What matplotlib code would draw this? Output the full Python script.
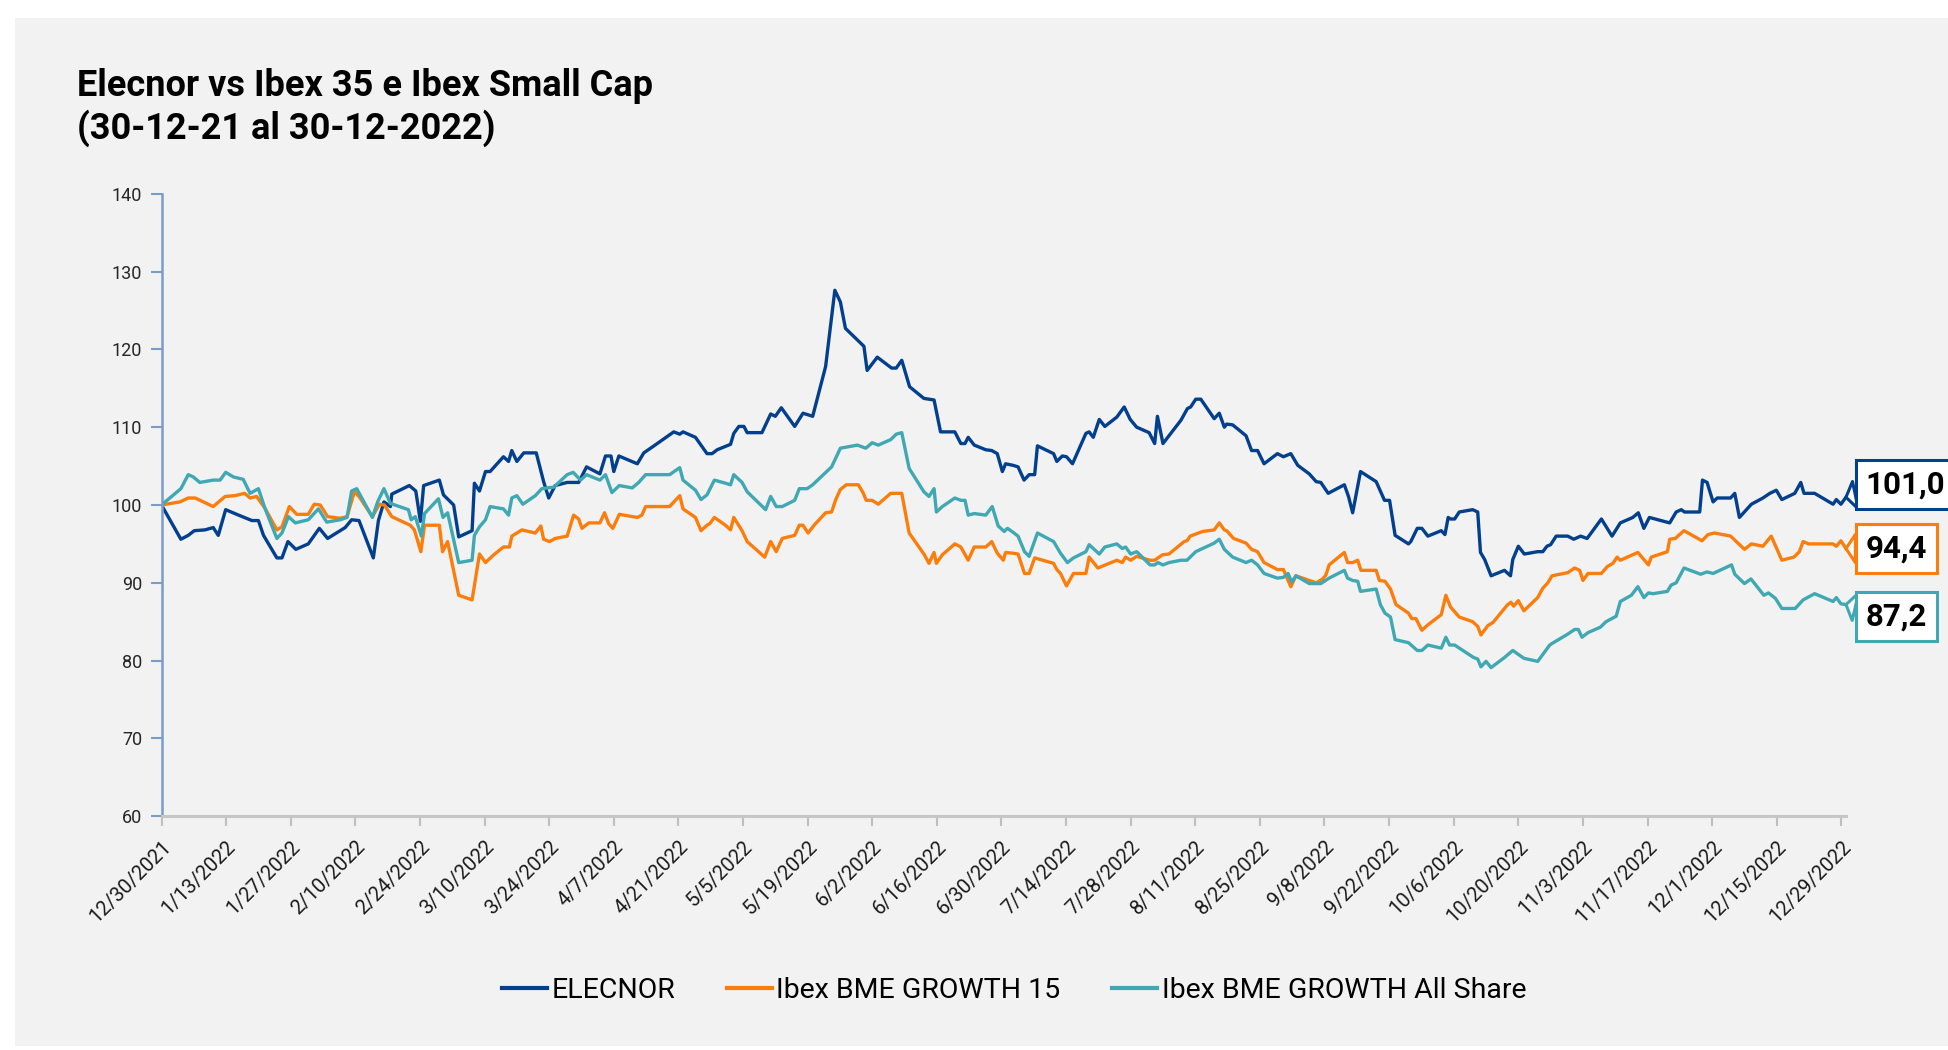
import matplotlib.pyplot as plt
import pandas as pd
from matplotlib.patches import Rectangle

FONT = ['Roboto', 'DejaVu Sans']
plt.rcParams['font.family'] = FONT

# day offsets from 30-12-2021 and index values
elecnor_days = [0, 4.2, 5.8, 7.1, 9.4, 11.2, 12.3, 13.9, 16.7, 19.6, 21.0, 22.1, 25.0, 26.1, 27.4, 29.1, 31.8, 34.2,
                36.0, 39.8, 41.2, 42.8, 45.9, 47.0, 48.2, 49.6, 49.9, 53.7, 55.1, 56.1, 56.8, 60.2, 61.1, 63.3, 64.4,
                67.3, 67.8, 68.9, 70.2, 71.2, 74.1, 75.2, 75.9, 77.0, 78.5, 81.2, 82.8, 83.9, 85.3, 87.9, 90.4, 92.1,
                95.0, 96.2, 97.4, 98.0, 99.1, 103.1, 104.5, 106.7, 111.0, 112.3, 113.0, 115.7, 118.2, 119.3, 120.4,
                123.3, 124.0, 125.1, 126.2, 126.9, 130.1, 132.0, 133.0, 134.3, 137.2, 139.0, 141.1, 143.9, 145.9,
                147.1, 148.2, 152.2, 152.9, 155.1, 158.2, 159.2, 160.4, 162.1, 165.2, 167.4, 168.8, 171.9, 173.2,
                174.1, 174.8, 176.1, 178.6, 179.9, 181.1, 182.2, 182.9, 184.5, 185.6, 186.9, 188.0, 189.2, 189.8,
                193.3, 194.0, 195.2, 196.1, 197.4, 200.3, 201.0, 201.9, 203.2, 204.4, 207.0, 208.6, 209.9, 211.3,
                214.0, 215.2, 215.8, 217.0, 220.9, 222.3, 223.0, 224.1, 225.2, 228.1, 229.2, 230.3, 230.8, 232.1,
                235.0, 236.2, 237.5, 238.9, 241.8, 243.1, 244.7, 246.2, 248.7, 250.2, 251.2, 252.8, 256.3, 257.2,
                258.1, 259.8, 263.2, 265.0, 266.1, 267.3, 270.2, 270.7, 272.1, 273.1, 274.4, 277.3, 278.1, 278.8,
                279.3, 280.2, 281.2, 284.1, 285.2, 285.8, 286.7, 288.1, 291.0, 292.3, 292.8, 294.0, 295.3, 298.2,
                299.3, 300.2, 301.0, 302.2, 304.7, 306.0, 307.5, 308.9, 312.0, 314.3, 316.1, 318.8, 320.0, 321.2,
                322.4, 326.8, 328.2, 329.3, 330.0, 333.3, 333.9, 334.9, 336.2, 337.1, 340.0, 340.9, 341.9, 344.5,
                347.0, 348.5, 349.9, 351.1, 353.9, 355.2, 355.9, 358.2, 362.2, 362.9, 363.9, 365.0]
elecnor_vals = [100.0, 95.6, 96.1, 96.7, 96.8, 97.1, 96.1, 99.4, 98.7, 98.0, 98.0, 96.1, 93.2, 93.2, 95.3, 94.3, 95.0,
                97.0, 95.7, 97.1, 98.1, 98.0, 93.2, 98.0, 100.4, 99.8, 101.4, 102.5, 101.8, 97.9, 102.5, 103.2, 101.3,
                100.0, 95.9, 96.7, 102.8, 101.8, 104.3, 104.3, 106.2, 105.6, 107.0, 105.6, 106.7, 106.7, 103.0, 100.9,
                102.5, 102.9, 102.9, 104.9, 104.0, 106.3, 106.3, 104.3, 106.3, 105.3, 106.7, 107.6, 109.4, 109.1,
                109.4, 108.7, 106.6, 106.6, 107.1, 107.8, 109.2, 110.1, 110.1, 109.3, 109.3, 111.7, 111.4, 112.5,
                110.1, 111.8, 111.4, 117.8, 127.6, 126.1, 122.7, 120.4, 117.3, 119.0, 117.6, 117.6, 118.6, 115.2,
                113.7, 113.5, 109.4, 109.4, 107.9, 107.9, 108.7, 107.7, 107.1, 107.0, 106.6, 104.3, 105.3, 105.1,
                104.9, 103.2, 103.9, 103.9, 107.6, 106.6, 105.6, 106.3, 106.2, 105.3, 109.2, 109.4, 108.7, 111.0,
                110.1, 111.3, 112.6, 111.0, 110.0, 109.3, 107.9, 111.4, 107.9, 110.9, 112.4, 112.6, 113.6, 113.6,
                111.1, 111.8, 110.0, 110.4, 110.3, 108.9, 107.0, 107.0, 105.3, 106.6, 106.2, 106.6, 105.1, 104.0,
                103.0, 102.9, 101.5, 102.6, 101.1, 99.0, 104.3, 103.0, 100.6, 100.6, 96.1, 95.0, 95.3, 97.0, 97.0,
                96.0, 96.7, 96.2, 98.4, 98.2, 98.2, 99.1, 99.4, 99.1, 93.9, 93.0, 90.9, 91.6, 90.9, 93.0, 94.7, 93.7,
                94.0, 94.0, 94.7, 94.9, 96.0, 96.0, 95.6, 96.0, 95.7, 98.2, 96.0, 97.7, 98.4, 99.0, 97.0, 98.4, 97.7,
                99.1, 99.4, 99.1, 99.1, 103.2, 102.9, 100.4, 100.9, 100.9, 101.5, 98.4, 100.1, 100.9, 101.5, 101.9,
                100.7, 101.5, 102.9, 101.5, 101.5, 100.1, 100.7, 100.1, 101.0]

growth15_days = [0, 4.0, 5.8, 7.3, 11.2, 13.8, 15.9, 18.0, 19.2, 20.6, 22.4, 25.0, 26.1, 27.7, 29.3, 31.8, 33.1, 34.4,
                 36.0, 38.7, 40.2, 41.8, 42.8, 45.7, 47.2, 48.3, 49.9, 53.9, 54.8, 56.2, 57.0, 60.2, 60.9, 62.0, 64.4,
                 67.3, 68.9, 70.2, 72.0, 74.1, 75.4, 75.9, 78.1, 81.0, 82.2, 82.8, 84.1, 85.3, 87.9, 89.3, 90.4, 91.1,
                 92.6, 95.0, 96.0, 96.9, 97.8, 99.2, 103.1, 104.1, 104.9, 110.1, 112.3, 113.0, 115.7, 116.9, 118.2,
                 118.8, 119.8, 122.2, 123.3, 124.0, 125.8, 126.9, 130.7, 132.0, 133.2, 134.5, 137.2, 138.2, 139.0,
                 140.1, 141.4, 143.9, 145.2, 146.1, 147.1, 148.4, 151.0, 152.0, 152.7, 154.0, 155.3, 158.0, 160.4,
                 162.0, 165.2, 166.3, 167.4, 167.9, 169.2, 171.9, 173.2, 174.8, 176.1, 178.6, 179.9, 181.1, 182.4,
                 182.9, 184.5, 185.6, 187.0, 188.0, 189.2, 193.3, 194.0, 194.8, 196.1, 197.6, 200.3, 201.0, 202.9,
                 207.0, 208.2, 208.9, 210.0, 211.3, 214.2, 215.2, 216.9, 218.3, 221.6, 222.2, 222.9, 225.6, 228.1,
                 229.2, 230.3, 230.8, 232.3, 235.0, 236.2, 237.5, 238.9, 241.8, 243.1, 244.7, 245.8, 250.2, 251.6,
                 252.3, 253.0, 256.3, 257.0, 258.1, 259.2, 259.9, 263.2, 263.9, 265.1, 266.3, 267.5, 270.2, 270.9,
                 271.8, 273.1, 274.4, 277.3, 278.3, 279.3, 281.2, 284.1, 285.2, 285.9, 287.4, 288.5, 291.7, 292.4,
                 293.0, 294.0, 295.2, 298.2, 299.3, 300.4, 301.3, 304.7, 306.2, 307.3, 308.0, 309.1, 312.0, 313.3,
                 314.5, 315.4, 316.1, 319.9, 322.2, 322.8, 326.3, 326.8, 328.0, 329.9, 333.8, 335.1, 336.5, 340.0,
                 343.0, 344.5, 347.0, 348.8, 351.1, 353.7, 354.9, 355.7, 356.9, 362.2, 362.9, 363.9, 365.0]
growth15_vals = [100.0, 100.4, 100.9, 100.9, 99.8, 101.1, 101.2, 101.5, 100.9, 101.1, 99.6, 96.8, 97.2, 99.8, 98.8,
                 98.8, 100.1, 100.0, 98.5, 98.3, 98.5, 101.7, 101.1, 98.5, 100.1, 100.0, 98.5, 97.4, 96.8, 94.0, 97.4,
                 97.4, 94.0, 95.3, 88.4, 87.8, 93.7, 92.6, 93.6, 94.6, 94.6, 96.0, 96.8, 96.4, 97.3, 95.6, 95.3, 95.7,
                 96.0, 98.7, 98.2, 97.0, 97.7, 97.7, 99.0, 97.6, 97.0, 98.8, 98.4, 98.7, 99.8, 99.8, 101.2, 99.5, 98.4,
                 96.7, 97.4, 97.6, 98.4, 97.4, 96.8, 98.4, 96.7, 95.3, 93.3, 95.3, 94.0, 95.7, 96.1, 97.4, 97.4, 96.4,
                 97.4, 99.0, 99.1, 100.7, 102.0, 102.6, 102.6, 101.6, 100.6, 100.6, 100.1, 101.5, 101.5, 96.4, 93.7,
                 92.5, 93.9, 92.5, 93.6, 95.0, 94.6, 92.9, 94.6, 94.6, 95.3, 93.8, 92.9, 93.9, 93.8, 93.7, 91.2, 91.2,
                 93.2, 92.5, 91.7, 91.2, 89.6, 91.2, 91.2, 93.3, 91.9, 92.9, 92.6, 93.3, 92.9, 93.4, 92.9, 92.9, 93.6,
                 93.7, 95.3, 95.4, 96.0, 96.6, 96.8, 97.7, 96.8, 96.7, 95.7, 95.1, 94.3, 94.0, 92.6, 91.7, 91.7, 89.5,
                 90.9, 90.0, 90.5, 91.0, 92.3, 93.9, 92.6, 92.6, 92.9, 91.6, 91.6, 90.3, 90.2, 89.2, 87.2, 86.1, 85.4,
                 85.4, 83.9, 84.6, 85.9, 88.4, 86.9, 85.6, 85.0, 84.4, 83.3, 84.5, 84.9, 87.2, 87.5, 87.0, 87.7, 86.4,
                 88.1, 89.3, 90.0, 90.9, 91.3, 91.9, 91.6, 90.3, 91.2, 91.2, 92.1, 92.5, 93.3, 92.9, 93.9, 92.3, 93.3,
                 94.0, 95.6, 95.7, 96.7, 95.4, 96.2, 96.4, 96.0, 94.3, 95.0, 94.7, 96.0, 92.9, 93.3, 94.0, 95.3, 95.0,
                 95.0, 94.7, 95.4, 94.4]

allshare_days = [0, 4.2, 5.8, 6.9, 8.3, 11.2, 12.7, 13.9, 15.6, 17.7, 19.2, 21.0, 22.4, 25.0, 26.1, 27.5, 29.0, 31.8,
                 34.0, 35.8, 38.7, 40.2, 41.2, 42.3, 45.7, 46.9, 48.2, 49.6, 53.5, 54.1, 55.0, 56.3, 57.0, 60.0, 61.0,
                 62.0, 64.4, 67.3, 67.8, 68.9, 70.2, 71.2, 74.1, 75.2, 75.9, 77.0, 78.3, 81.0, 82.4, 85.0, 87.9, 89.2,
                 90.8, 92.1, 95.0, 96.2, 97.6, 99.2, 102.0, 103.4, 104.9, 110.1, 112.3, 113.0, 115.7, 116.9, 118.2,
                 119.8, 122.2, 123.3, 124.0, 125.8, 126.9, 130.9, 132.0, 133.2, 134.5, 137.2, 138.2, 139.9, 141.1,
                 145.2, 147.1, 150.8, 152.6, 154.0, 155.3, 158.0, 159.2, 160.4, 162.0, 165.2, 166.3, 167.4, 167.9,
                 169.2, 171.9, 173.2, 174.1, 174.8, 176.1, 178.6, 180.0, 181.3, 182.6, 183.3, 184.5, 185.6, 187.0,
                 188.0, 189.8, 193.3, 194.8, 196.3, 197.6, 200.3, 201.0, 203.2, 204.4, 207.0, 208.2, 208.9, 210.0,
                 211.3, 214.2, 215.2, 215.9, 217.0, 218.3, 220.9, 222.2, 224.1, 228.1, 229.2, 230.3, 232.1, 235.0,
                 236.2, 237.5, 238.9, 241.8, 243.1, 244.1, 244.9, 245.8, 248.7, 251.2, 253.0, 256.3, 257.0, 258.1,
                 259.2, 259.8, 263.2, 264.1, 265.1, 266.3, 267.3, 270.2, 272.1, 273.1, 274.4, 277.3, 278.3, 279.1,
                 280.2, 284.3, 285.2, 285.9, 287.0, 288.1, 291.0, 292.8, 295.2, 298.2, 300.8, 301.3, 304.7, 306.2,
                 307.0, 307.8, 309.1, 311.8, 313.0, 315.2, 316.1, 318.5, 319.9, 321.2, 322.2, 323.2, 326.3, 327.1,
                 328.2, 329.9, 333.5, 334.9, 336.2, 340.2, 340.9, 343.0, 344.4, 347.2, 348.2, 349.7, 351.1, 354.0,
                 355.7, 358.2, 362.2, 362.9, 363.9, 365.0]
allshare_vals = [100.0, 102.1, 103.9, 103.6, 102.9, 103.2, 103.2, 104.2, 103.6, 103.3, 101.5, 102.1, 99.6, 95.7, 96.4,
                 98.5, 97.7, 98.1, 99.5, 97.8, 98.1, 98.4, 101.8, 102.1, 98.4, 100.5, 102.1, 100.2, 99.4, 98.1, 98.5,
                 96.0, 98.9, 100.8, 98.4, 99.0, 92.6, 92.9, 96.1, 97.2, 98.1, 99.8, 99.5, 98.7, 100.9, 101.2, 100.1,
                 101.2, 102.1, 102.3, 103.9, 104.2, 103.2, 103.9, 103.2, 103.9, 101.6, 102.5, 102.2, 102.9, 103.9,
                 103.9, 104.8, 103.2, 101.9, 100.7, 101.3, 103.2, 102.8, 102.6, 103.9, 102.9, 101.7, 99.4, 101.1, 99.8,
                 99.8, 100.6, 102.1, 102.1, 102.6, 104.9, 107.3, 107.7, 107.3, 108.0, 107.7, 108.4, 109.1, 109.3, 104.7,
                 101.7, 101.1, 102.1, 99.1, 99.8, 100.9, 100.6, 100.6, 98.7, 98.9, 98.7, 99.8, 97.3, 96.6, 97.0, 96.5,
                 96.0, 94.0, 93.4, 96.4, 95.3, 93.8, 92.6, 93.2, 94.0, 94.9, 93.7, 94.6, 95.0, 94.4, 94.6, 93.7, 94.0,
                 92.3, 92.3, 92.6, 92.3, 92.6, 92.9, 92.9, 94.0, 95.1, 95.6, 94.3, 93.3, 92.6, 92.9, 92.3, 91.2, 90.6,
                 90.7, 91.2, 90.1, 90.9, 89.9, 89.9, 90.6, 91.6, 90.6, 90.3, 90.2, 88.9, 89.2, 87.2, 86.1, 85.6, 82.7,
                 82.3, 81.3, 81.3, 82.0, 81.6, 83.0, 82.0, 82.0, 80.4, 80.2, 79.2, 79.9, 79.1, 80.4, 81.3, 80.3, 79.9,
                 82.0, 82.2, 83.4, 84.0, 84.0, 83.0, 83.6, 84.3, 85.0, 85.7, 87.6, 88.4, 89.5, 88.1, 88.7, 88.6, 88.9,
                 89.7, 90.0, 91.9, 91.1, 91.4, 91.2, 92.3, 91.1, 89.9, 90.5, 88.4, 88.7, 88.0, 86.7, 86.7, 87.8, 88.6,
                 87.6, 88.1, 87.3, 87.2]

series_names = ['ELECNOR', 'Ibex BME GROWTH 15', 'Ibex BME GROWTH All Share']
series_colors = ['#023f8c', '#fb7d0c', '#3fa8b2']
end_labels = ['101,0', '94,4', '87,2']
label_y = [102.6, 94.4, 85.7]

tick_dates = pd.date_range('2021-12-30', periods=27, freq='14D')
tick_labels = [f'{d.month}/{d.day}/{d.year}' for d in tick_dates]
tick_pos = [(d - tick_dates[0]).days for d in tick_dates]

W, H = 1948, 1050
fig = plt.figure(figsize=(W / 100, H / 100), dpi=100, facecolor='white')
fig.patches.append(Rectangle((15 / W, 1 - 1046 / H), 1 - 15 / W, (1046 - 18) / H,
                             transform=fig.transFigure, facecolor='#f2f2f2', edgecolor='none', zorder=-5))

ax = fig.add_axes([161.5 / W, 1 - 816.2 / H, (1846 - 161.5) / W, (816.2 - 193.8) / H])
ax.set_facecolor('none')

data = [(elecnor_days, elecnor_vals), (growth15_days, growth15_vals), (allshare_days, allshare_vals)]
for (d, v), name, col in zip(data, series_names, series_colors):
    ax.plot(d, v, color=col, lw=2.4, label=name)

ax.set_xlim(0, 365)
ax.set_ylim(60, 140)
ax.set_yticks(range(60, 141, 10))
ax.set_xticks(tick_pos)
ax.set_xticklabels(tick_labels, rotation=45, ha='right', va='top', rotation_mode='anchor', fontsize=14.5)
ax.tick_params(axis='y', labelsize=13, colors='#7b9bc8', labelcolor='#262626', length=8, width=1.5, pad=6)
ax.tick_params(axis='x', colors='#bfbfbf', labelcolor='#1a1a1a', length=7, width=1.5, pad=8)

for s in ['top', 'right']:
    ax.spines[s].set_visible(False)
ax.spines['left'].set_color('#7b9bc8')
ax.spines['left'].set_linewidth(1.8)
ax.spines['bottom'].set_color('#c6c6c6')
ax.spines['bottom'].set_linewidth(2.2)

# callout boxes with the last value, pointer drawn as a wedge towards the line end
for (d, v), col, txt, ly in zip(data, series_colors, end_labels, label_y):
    ax.annotate(txt, xy=(d[-1], v[-1]), xytext=(369.3, ly), textcoords='data',
                ha='left', va='center', fontsize=22.5, fontweight='bold', color='black',
                annotation_clip=False,
                bbox=dict(boxstyle='square,pad=0.3', fc='white', ec=col, lw=2.2),
                arrowprops=dict(arrowstyle='wedge,tail_width=0.9,shrink_factor=0.5',
                                fc='white', ec=col, lw=2.2, shrinkA=0, shrinkB=0))

fig.text(77 / W, 1 - 96 / H, 'Elecnor vs Ibex 35 e Ibex Small Cap', fontsize=26, fontweight='bold',
         ha='left', va='baseline', color='black')
fig.text(77 / W, 1 - 139 / H, '(30-12-21 al 30-12-2022)', fontsize=26, fontweight='bold',
         ha='left', va='baseline', color='black')

leg = fig.legend(loc='center', bbox_to_anchor=(1014 / W, 1 - 990 / H), ncol=3, frameon=False,
                 fontsize=20.5, handlelength=1.6, handletextpad=0.15, columnspacing=1.8)
for line in leg.get_lines():
    line.set_linewidth(3)

fig.savefig('out.png', dpi=100, facecolor='white')
